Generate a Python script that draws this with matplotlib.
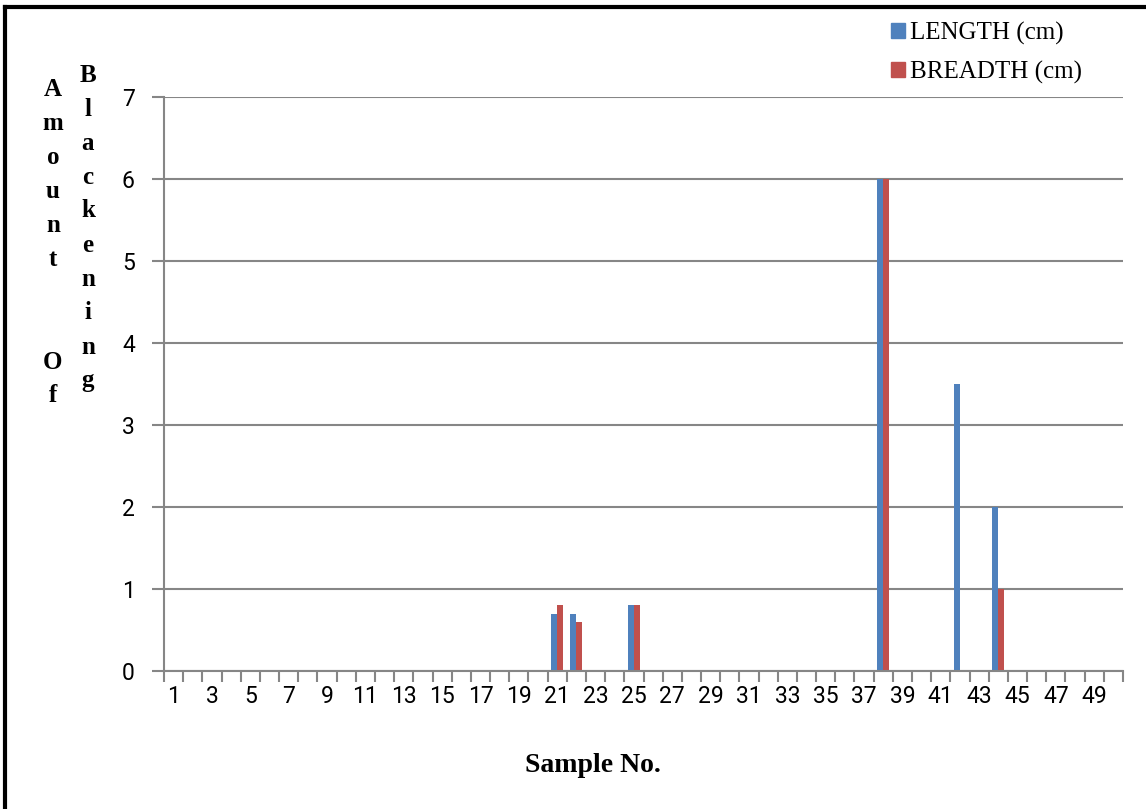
import matplotlib
matplotlib.use("Agg")
import matplotlib.pyplot as plt
from matplotlib.lines import Line2D
from matplotlib.patches import Patch

samples = list(range(1, 51))
length_cm = [0, 0, 0, 0, 0, 0, 0, 0, 0, 0,
             0, 0, 0, 0, 0, 0, 0, 0, 0, 0,
             0.7, 0.7, 0, 0, 0.8, 0, 0, 0, 0, 0,
             0, 0, 0, 0, 0, 0, 0, 6, 0, 0,
             0, 3.5, 0, 2, 0, 0, 0, 0, 0, 0]
breadth_cm = [0, 0, 0, 0, 0, 0, 0, 0, 0, 0,
              0, 0, 0, 0, 0, 0, 0, 0, 0, 0,
              0.8, 0.6, 0, 0, 0.8, 0, 0, 0, 0, 0,
              0, 0, 0, 0, 0, 0, 0, 6, 0, 0,
              0, 0, 0, 1, 0, 0, 0, 0, 0, 0]
series_names = ["LENGTH (cm)", "BREADTH (cm)"]
x_tick_labels = [str(s) for s in samples if s % 2 == 1]
y_ticks = [0, 1, 2, 3, 4, 5, 6, 7]

BLUE = "#4F81BD"
RED = "#C0504D"
GREY = "#868686"
W, H = 1146, 809

fig = plt.figure(figsize=(W / 100, H / 100), dpi=100)
ax = fig.add_axes([164 / W, 1 - 671 / H, (1123 - 164) / W, (671 - 97) / H])

bw = 0.31
xs = list(range(len(samples)))
ax.bar([x - bw / 2 for x in xs], length_cm, width=bw, color=BLUE, zorder=3)
ax.bar([x + bw / 2 for x in xs], breadth_cm, width=bw, color=RED, zorder=3)

ax.set_xlim(-0.5, len(samples) - 0.5)
ax.set_ylim(0, 7)

tick_font = ['Roboto', 'DejaVu Sans']
ax.set_yticks(y_ticks)
ax.set_yticklabels([str(v) for v in y_ticks], fontsize=16.5, family=tick_font)
ax.tick_params(axis='y', length=9, width=1.5, color=GREY, pad=12)
ax.yaxis.grid(True, color=GREY, linewidth=1.5, zorder=0)

ax.set_xticks([i for i, s in enumerate(samples) if s % 2 == 1])
ax.set_xticklabels(x_tick_labels, fontsize=16.5, family=tick_font)
ax.set_xticks([x - 0.5 for x in xs] + [len(samples) - 0.5], minor=True)
ax.tick_params(axis='x', which='major', length=0, pad=10)
ax.tick_params(axis='x', which='minor', length=8, width=1.5, color=GREY)

for sp in ['top', 'right']:
    ax.spines[sp].set_visible(False)
for sp in ['left', 'bottom']:
    ax.spines[sp].set_color(GREY)
    ax.spines[sp].set_linewidth(1.5)
ax.spines['left'].set_zorder(4)
ax.spines['bottom'].set_zorder(4)

serif = ['Liberation Serif', 'DejaVu Serif']
fig.text(593 / W, 1 - 765 / H, "Sample No.", ha='center', va='center',
         fontsize=20, fontweight='bold', family=serif)

# stacked vertical y label letters
col1 = "Amount Of"
col2 = "Blackening"
step = 34
for i, ch in enumerate(col1):
    if ch == " ":
        continue
    k = i if i < 6 else i + 1
    fig.text(53 / W, 1 - (90 + k * step) / H, ch, ha='center', va='center',
             fontsize=18, fontweight='bold', family=serif)
for i, ch in enumerate(col2):
    fig.text(88 / W, 1 - (75 + i * step) / H, ch, ha='center', va='center',
             fontsize=18, fontweight='bold', family=serif)

handles = [Patch(color=BLUE), Patch(color=RED)]
leg = fig.legend(handles, series_names, loc='upper left',
                 bbox_to_anchor=(891 / W, 1 - 22 / H), frameon=False,
                 prop={'family': serif, 'size': 18}, handlelength=0.55,
                 handleheight=0.55, handletextpad=0.2, labelspacing=0.62,
                 borderpad=0, borderaxespad=0)

# black frame lines (top and left)
fig.add_artist(Line2D([5 / W, 1], [1 - 7 / H, 1 - 7 / H], color='black', linewidth=3,
                      transform=fig.transFigure))
fig.add_artist(Line2D([5 / W, 5 / W], [1 - 7 / H, 0], color='black', linewidth=3,
                      transform=fig.transFigure))

fig.savefig("out.png", dpi=100)
